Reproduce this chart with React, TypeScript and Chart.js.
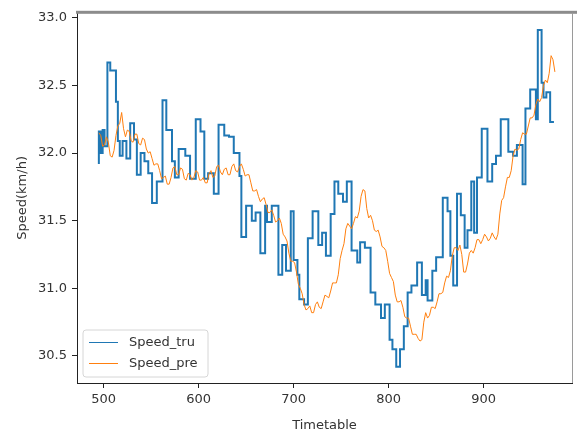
import React, { useEffect, useRef } from "react";
import { Chart, registerables } from "chart.js";

Chart.register(...registerables);

const FONT = "'DejaVu Sans', sans-serif";

// Speed_tru: change points (value held until next timetable entry)
const timetableTru = [
  495, 497, 499, 501, 504, 507, 513, 515, 517, 520,
  524, 528, 532, 535, 539, 543, 547, 551, 556, 562,
  566, 572, 575, 579, 586, 591, 597, 602, 606, 610,
  616, 621, 627, 632, 637, 643, 645, 650, 656, 660,
  665, 670, 672, 677, 684, 688, 692, 697, 700, 704,
  706, 711, 715, 720, 726, 730, 734, 739, 743, 747,
  752, 756, 761, 767, 770, 775, 781, 786, 792, 796,
  801, 804, 808, 812, 816, 820, 824, 830, 835, 839,
  841, 846, 850, 857, 862, 865, 868, 872, 876, 880,
  883, 887, 890, 893, 898, 904, 909, 913, 918, 926,
  931, 935, 941, 944, 949, 955, 957, 961, 963, 966,
  970, 972, 974,
];
const speedTru = [
  31.92, 32.16, 32.0, 32.17, 32.05, 32.67, 32.61, 32.38, 32.09, 31.98,
  32.09, 31.96, 32.22, 32.1, 31.84, 32.0, 31.94, 31.85, 31.63, 31.79,
  32.39, 32.17, 31.94, 31.82, 32.03, 31.98, 31.81, 32.25, 32.16, 31.81,
  31.85, 31.7, 32.21, 32.13, 32.12, 32.0, 31.83, 31.38, 31.61, 31.5,
  31.56, 31.26, 31.61, 31.49, 31.61, 31.1, 31.32, 31.13, 31.57, 31.21,
  31.1, 30.92, 30.88, 31.37, 31.57, 31.32, 31.41, 31.24, 31.55, 31.79,
  31.7, 31.64, 31.79, 31.28, 31.19, 31.34, 31.3, 30.97, 30.88, 30.78,
  30.88, 30.62, 30.55, 30.42, 30.55, 30.72, 30.97, 31.02, 31.19, 30.95,
  31.06, 30.91, 31.13, 31.23, 31.67, 31.57, 31.24, 31.02, 31.7, 31.54,
  31.3, 31.43, 31.79, 31.41, 31.82, 32.18, 31.79, 31.92, 31.98, 32.25,
  32.01, 31.98, 32.06, 31.77, 32.33, 32.47, 32.25, 32.91, 32.52, 32.41,
  32.45, 32.23, 32.23,
];

// Speed_pre
const timetablePre = [
  495, 497, 499, 501, 503, 505, 507, 509, 511, 513,
  515, 517, 519, 521, 523, 525, 527, 529, 531, 533,
  535, 537, 539, 541, 543, 545, 547, 549, 551, 553,
  555, 557, 559, 561, 563, 565, 567, 569, 571, 573,
  575, 577, 579, 581, 583, 585, 587, 589, 591, 593,
  595, 597, 599, 601, 603, 605, 607, 609, 611, 613,
  615, 617, 619, 621, 623, 625, 627, 629, 631, 633,
  635, 637, 639, 641, 643, 645, 647, 649, 651, 653,
  655, 657, 659, 661, 663, 665, 667, 669, 671, 673,
  675, 677, 679, 681, 683, 685, 687, 689, 691, 693,
  695, 697, 699, 701, 703, 705, 707, 709, 711, 713,
  715, 717, 719, 721, 723, 725, 727, 729, 731, 733,
  735, 737, 739, 741, 743, 745, 747, 749, 751, 753,
  755, 757, 759, 761, 763, 765, 767, 769, 771, 773,
  775, 777, 779, 781, 783, 785, 787, 789, 791, 793,
  795, 797, 799, 801, 803, 805, 807, 809, 811, 813,
  815, 817, 819, 821, 823, 825, 827, 829, 831, 833,
  835, 837, 839, 841, 843, 845, 847, 849, 851, 853,
  855, 857, 859, 861, 863, 865, 867, 869, 871, 873,
  875, 877, 879, 881, 883, 885, 887, 889, 891, 893,
  895, 897, 899, 901, 903, 905, 907, 909, 911, 913,
  915, 917, 919, 921, 923, 925, 927, 929, 931, 933,
  935, 937, 939, 941, 943, 945, 947, 949, 951, 953,
  955, 957, 959, 961, 963, 965, 967, 969, 971, 973,
  975,
];
const speedPre = [
  32.15, 32.13, 32.05, 32.06, 32.12, 32.08, 31.98, 31.97, 32.02, 32.13,
  32.2, 32.22, 32.3, 32.18, 32.12, 32.17, 32.16, 32.09, 32.08, 32.14,
  32.14, 32.07, 32.06, 32.11, 32.1, 32.03, 32.0, 32.01, 31.96, 31.91,
  31.92, 31.92, 31.87, 31.81, 31.82, 31.83, 31.77, 31.77, 31.82, 31.89,
  31.9, 31.84, 31.84, 31.89, 31.88, 31.81, 31.8, 31.85, 31.84, 31.8,
  31.82, 31.87, 31.86, 31.8, 31.8, 31.82, 31.78, 31.78, 31.85, 31.87,
  31.82, 31.83, 31.9, 31.91, 31.86, 31.84, 31.88, 31.89, 31.84, 31.84,
  31.9, 31.92, 31.87, 31.86, 31.9, 31.92, 31.88, 31.83, 31.84, 31.84,
  31.78, 31.72, 31.72, 31.73, 31.68, 31.64, 31.66, 31.67, 31.62, 31.56,
  31.56, 31.58, 31.54, 31.49, 31.5, 31.52, 31.48, 31.4, 31.38, 31.35,
  31.26, 31.2, 31.2, 31.19, 31.12, 31.03, 31.0, 30.96, 30.88, 30.84,
  30.85, 30.87, 30.82, 30.82, 30.88, 30.9, 30.86, 30.85, 30.9, 30.95,
  30.94, 30.93, 30.98, 31.04, 31.04, 31.04, 31.1, 31.22, 31.28, 31.33,
  31.44, 31.48, 31.46, 31.44, 31.48, 31.53, 31.52, 31.57, 31.68, 31.73,
  31.72, 31.59, 31.52, 31.54, 31.5, 31.43, 31.42, 31.43, 31.38, 31.31,
  31.3, 31.28, 31.2, 31.11, 31.08, 31.05, 30.95, 30.9, 30.9, 30.91,
  30.86, 30.79, 30.78, 30.78, 30.72, 30.66, 30.66, 30.66, 30.63, 30.61,
  30.62, 30.75, 30.82, 30.78, 30.8, 30.86, 30.86, 30.85, 30.9, 30.96,
  30.96, 30.97, 31.04, 31.09, 31.08, 31.13, 31.24, 31.3, 31.3, 31.28,
  31.32, 31.25, 31.12, 31.12, 31.18, 31.26, 31.28, 31.26, 31.3, 31.36,
  31.36, 31.33, 31.36, 31.4, 31.38, 31.35, 31.37, 31.41, 31.38, 31.36,
  31.4, 31.55, 31.65, 31.67, 31.75, 31.82, 31.82, 31.87, 31.98, 32.03,
  32.02, 32.03, 32.1, 32.15, 32.14, 32.14, 32.2, 32.26, 32.26, 32.28,
  32.36, 32.4, 32.38, 32.41, 32.5, 32.54, 32.52, 32.59, 32.72, 32.69,
  32.6,
];

const xTicks = [500, 600, 700, 800, 900];
const yTicks = [30.5, 31.0, 31.5, 32.0, 32.5, 33.0];
const seriesNames = ["Speed_tru", "Speed_pre"];
const seriesColors = ["#1f77b4", "#ff7f0e"];

const framePlugin = {
  id: "frame",
  afterDraw(chart: any) {
    const { ctx, chartArea } = chart;
    ctx.save();
    ctx.fillStyle = "#8c8c8c";
    ctx.fillRect(chartArea.left - 1, chartArea.top - 2, chart.width - chartArea.left + 1, 3);
    ctx.strokeStyle = "#9a9a9a";
    ctx.lineWidth = 1;
    ctx.beginPath();
    ctx.moveTo(chartArea.right + 0.5, chartArea.top);
    ctx.lineTo(chartArea.right + 0.5, chartArea.bottom);
    ctx.stroke();
    ctx.restore();
  },
};

const legendPlugin = {
  id: "innerLegend",
  afterDraw(chart: any) {
    const { ctx, chartArea } = chart;
    const x0 = chartArea.left + 6;
    const y0 = chartArea.bottom - 53;
    const w = 125;
    const h = 47;
    ctx.save();
    ctx.beginPath();
    const r = 3;
    ctx.moveTo(x0 + r, y0);
    ctx.lineTo(x0 + w - r, y0);
    ctx.quadraticCurveTo(x0 + w, y0, x0 + w, y0 + r);
    ctx.lineTo(x0 + w, y0 + h - r);
    ctx.quadraticCurveTo(x0 + w, y0 + h, x0 + w - r, y0 + h);
    ctx.lineTo(x0 + r, y0 + h);
    ctx.quadraticCurveTo(x0, y0 + h, x0, y0 + h - r);
    ctx.lineTo(x0, y0 + r);
    ctx.quadraticCurveTo(x0, y0, x0 + r, y0);
    ctx.closePath();
    ctx.fillStyle = "rgba(255,255,255,0.85)";
    ctx.fill();
    ctx.strokeStyle = "#d6d6d6";
    ctx.lineWidth = 1;
    ctx.stroke();
    ctx.font = `13px ${FONT}`;
    ctx.textBaseline = "middle";
    ctx.textAlign = "left";
    seriesNames.forEach((name, i) => {
      const yy = y0 + 12.5 + i * 21;
      ctx.strokeStyle = seriesColors[i];
      ctx.lineWidth = 1;
      ctx.beginPath();
      ctx.moveTo(x0 + 6, yy);
      ctx.lineTo(x0 + 35, yy);
      ctx.stroke();
      ctx.fillStyle = "#333";
      ctx.fillText(name, x0 + 46, yy);
    });
    ctx.restore();
  },
};

export default function App() {
  const ref = useRef<HTMLCanvasElement>(null);
  useEffect(() => {
    const axisCommon = {
      grid: { drawOnChartArea: false, drawTicks: true, tickLength: 5, color: "#222", lineWidth: 1 },
      border: { display: true, color: "#222", width: 1 },
    };
    const chart = new Chart(ref.current as HTMLCanvasElement, {
      type: "line",
      data: {
        datasets: [
          {
            label: seriesNames[0],
            data: timetableTru.map((x, i) => ({ x, y: speedTru[i] })),
            borderColor: seriesColors[0],
            backgroundColor: seriesColors[0],
            borderWidth: 2,
            pointRadius: 0,
            stepped: "after",
            fill: false,
            order: 1,
          },
          {
            label: seriesNames[1],
            data: timetablePre.map((x, i) => ({ x, y: speedPre[i] })),
            borderColor: seriesColors[1],
            backgroundColor: seriesColors[1],
            borderWidth: 1,
            pointRadius: 0,
            tension: 0,
            fill: false,
            order: 0,
          },
        ],
      },
      options: {
        animation: false,
        responsive: false,
        devicePixelRatio: 1,
        layout: { padding: { left: 0, right: 5, top: 10, bottom: 0 } },
        plugins: { legend: { display: false }, tooltip: { enabled: false } },
        scales: {
          x: {
            type: "linear",
            min: 472,
            max: 993,
            ...axisCommon,
            afterBuildTicks: (s: any) => {
              s.ticks = xTicks.map((v) => ({ value: v }));
            },
            afterFit: (s: any) => {
              s.height = 50;
            },
            ticks: {
              color: "#333",
              font: { family: FONT, size: 13 },
              padding: 4,
              maxRotation: 0,
              callback: (v: any) => String(v),
            },
            title: {
              display: true,
              text: "Timetable",
              color: "#333",
              font: { family: FONT, size: 13 },
              padding: { top: 9, bottom: 0 },
            },
          },
          y: {
            type: "linear",
            min: 30.3,
            max: 33.037,
            ...axisCommon,
            afterBuildTicks: (s: any) => {
              s.ticks = yTicks.map((v) => ({ value: v }));
            },
            afterFit: (s: any) => {
              s.width = 77;
            },
            ticks: {
              color: "#333",
              font: { family: FONT, size: 13 },
              padding: 5,
              callback: (v: any) => Number(v).toFixed(1),
            },
            title: {
              display: true,
              text: "Speed(km/h)",
              color: "#333",
              font: { family: FONT, size: 13 },
              padding: { top: 15, bottom: 0 },
            },
          },
        },
      },
      plugins: [framePlugin, legendPlugin],
    } as any);
    return () => chart.destroy();
  }, []);
  return (
    <div style={{ position: "fixed", left: 0, top: 0, width: 577, height: 433, background: "#fff" }}>
      <canvas ref={ref} width={577} height={433} style={{ display: "block", width: 577, height: 433 }} />
    </div>
  );
}
